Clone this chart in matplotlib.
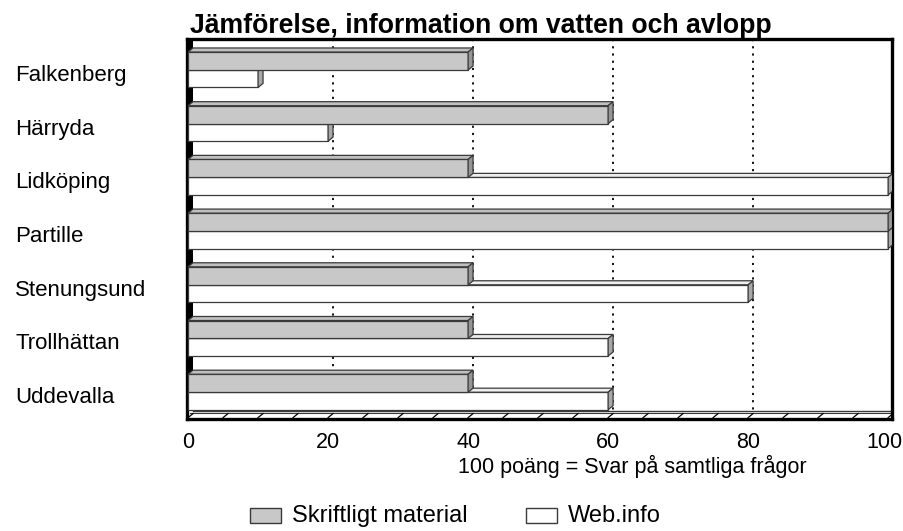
import matplotlib.pyplot as plt
from matplotlib.patches import Polygon, Rectangle
from matplotlib.transforms import blended_transform_factory, ScaledTranslation
import numpy as np

plt.rcParams['font.family'] = ['Liberation Sans', 'DejaVu Sans']

kommuner = ['Falkenberg', 'Härryda', 'Lidköping', 'Partille',
            'Stenungsund', 'Trollhättan', 'Uddevalla']
skriftligt = [40, 60, 40, 100, 40, 40, 40]
webinfo = [10, 20, 100, 100, 80, 60, 60]
xticks = [0, 20, 40, 60, 80, 100]

W, H = 904, 531
fig = plt.figure(figsize=(W / 100, H / 100), dpi=100)
ax = fig.add_axes([187 / W, 1 - 419 / H, 705 / W, 380 / H])
ax.set_xlim(-0.15, 100.55)
ax.set_ylim(7.076, 0)

dx = 0.71   # 3d depth, x units
dy = 0.075  # 3d depth, y units
floor = 6.93
edge = '#3a3a3a'


def bar3d(y0, h, L, front, top, side):
    y1 = y0 + h
    ax.add_patch(Rectangle((0, y0), L, h, fc=front, ec=edge, lw=0.9, zorder=3))
    ax.add_patch(Polygon([(0, y0), (L, y0), (L + dx, y0 - dy), (dx, y0 - dy)],
                         closed=True, fc=top, ec=edge, lw=0.9, zorder=3))
    ax.add_patch(Polygon([(L, y0), (L + dx, y0 - dy), (L + dx, y1 - dy), (L, y1)],
                         closed=True, fc=side, ec=edge, lw=0.9, zorder=3))


# back: left wall strip and dotted grid
ax.add_patch(Rectangle((0, 0), dx, floor, fc='black', ec='none', zorder=1))
for g in xticks[1:-1]:
    ax.plot([g + dx, g + dx], [0, floor], color='black', lw=1.3,
            ls=(0, (1.2, 2.8)), zorder=1)

for i in range(len(kommuner)):
    bar3d(i + 0.577, 0.325, webinfo[i], 'white', '#eeeeee', '#a8a8a8')
    bar3d(i + 0.242, 0.335, skriftligt[i], '#c8c8c8', '#c0c0c0', '#959595')

# floor
ax.plot([dx, 100 + dx], [floor, floor], color=edge, lw=1, zorder=2)
ax.plot([0.3, 100 + 0.3], [floor + 0.04, floor + 0.04], color=edge, lw=0.8, zorder=2)
for t in np.arange(0, 101, 5):
    ax.plot([t, t + dx], [7.05, floor + 0.045], color='black', lw=0.9, zorder=2)

for s in ax.spines.values():
    s.set_linewidth(2.4)
    s.set_color('black')

ax.set_xticks(xticks)
ax.set_xticklabels([str(v) for v in xticks], fontsize=15.5)
ax.tick_params(axis='x', length=0, pad=9)
last = ax.get_xticklabels()[-1]
last.set_transform(last.get_transform() + ScaledTranslation(-4 / 100, 0, fig.dpi_scale_trans))
ax.set_yticks([])

tr = blended_transform_factory(fig.transFigure, ax.transData)
for i, k in enumerate(kommuner):
    ax.text(15 / W, i + 0.78, k, transform=tr, ha='left', va='baseline',
            fontsize=16)

fig.text(190 / W, 1 - 33 / H, 'Jämförelse, information om vatten och avlopp',
         ha='left', va='baseline', fontsize=19.2, fontweight='bold')
fig.text(632 / W, 1 - 466 / H, '100 poäng = Svar på samtliga frågor',
         ha='center', va='center', fontsize=15.5)

# legend
fig.patches.append(Rectangle((250 / W, 1 - 523 / H), 31 / W, 15 / H,
                             transform=fig.transFigure, fc='#c8c8c8', ec=edge, lw=1))
fig.text(292 / W, 1 - 516 / H, 'Skriftligt material', ha='left', va='center', fontsize=17)
fig.patches.append(Rectangle((526 / W, 1 - 523 / H), 31 / W, 15 / H,
                             transform=fig.transFigure, fc='white', ec=edge, lw=1))
fig.text(568 / W, 1 - 516 / H, 'Web.info', ha='left', va='center', fontsize=17)

fig.savefig('out.png', dpi=100)
